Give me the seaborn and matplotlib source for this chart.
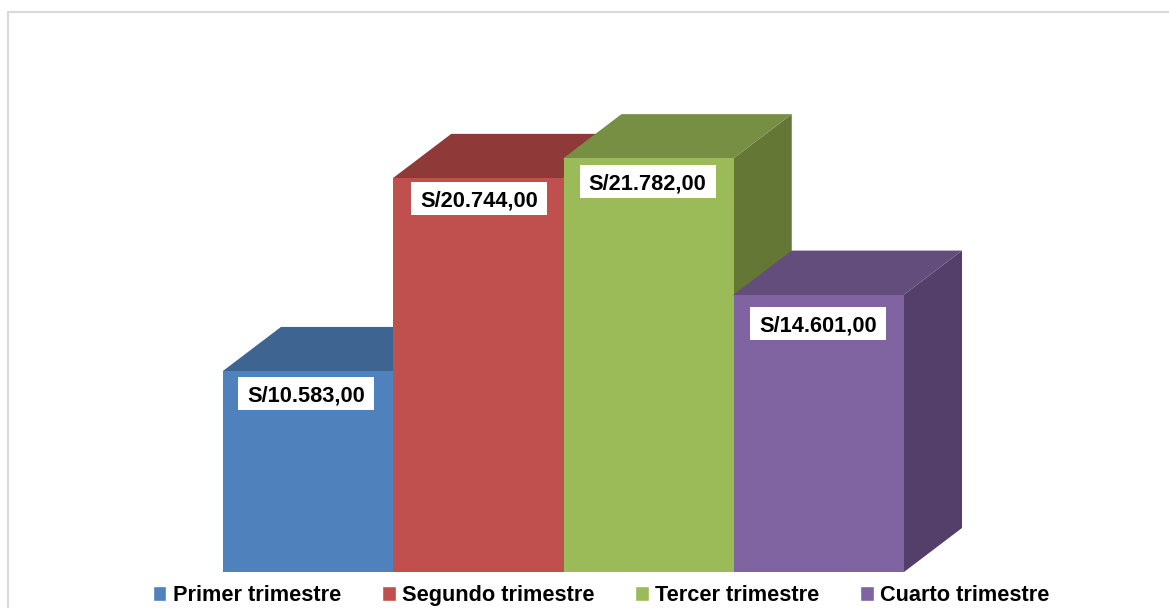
import matplotlib
matplotlib.use('Agg')
import matplotlib.pyplot as plt
from matplotlib.lines import Line2D
from matplotlib.patches import Rectangle
import pandas as pd
import seaborn as sns

trimestres = ['Primer trimestre', 'Segundo trimestre', 'Tercer trimestre', 'Cuarto trimestre']
valores = [10583, 20744, 21782, 14601]
etiquetas = ['S/10.583,00', 'S/20.744,00', 'S/21.782,00', 'S/14.601,00']

color_frente = ['#4F81BD', '#C0504D', '#9BBB59', '#8064A2']
color_arriba = ['#3E6492', '#8F3A38', '#778F43', '#634D7D']
color_lado = ['#345578', '#733130', '#657735', '#533F69']

# bajada y corrimiento de cada etiqueta respecto a su barra, en pixeles
bajada_px = [23, 20.5, 23.5, 28.5]
corrido_px = [-2, 0.5, -1, -1]

W, H = 1169, 608
sns.set_theme(style='white')
plt.rcParams['font.family'] = ['Liberation Sans', 'DejaVu Sans']

fig = plt.figure(figsize=(W / 100, H / 100), dpi=100)
ax = fig.add_axes([223 / W, (H - 572) / H, (904 - 223) / W, (572 - 12) / H])

df = pd.DataFrame({'trimestre': trimestres, 'valor': valores})
sns.barplot(data=df, x='trimestre', y='valor', hue='trimestre', order=trimestres,
            hue_order=trimestres, palette=color_frente, width=1, dodge=False,
            saturation=1, legend=True, ax=ax)

px_por_valor = 0.019
px_por_barra = (904 - 223) / 4
ax.set_xlim(-0.5, 3.5)
ax.set_ylim(0, (572 - 12) / px_por_valor)

# profundidad de las barras 3D
dx = 58 / px_por_barra
dy = 44 / px_por_valor
traslape = 1.5 / px_por_valor

for i, cont in enumerate(ax.containers):
    bar = cont[0]
    x0 = bar.get_x()
    x1 = x0 + bar.get_width()
    alto = bar.get_height()
    z = 3 + i
    bar.set_zorder(z + 0.2)
    bar.set_linewidth(0)
    # cara lateral y cara superior (la superior se mete un poco bajo el frente)
    ax.fill([x1 - 0.01, x1, x1 + dx, x1 + dx, x1, x1 - 0.01], [0, 0, dy, alto + dy, alto, alto],
            color=color_lado[i], lw=0, zorder=z, clip_on=False)
    ax.fill([x0, x1, x1, x1 + dx, x0 + dx, x0],
            [alto - traslape, alto - traslape, alto, alto + dy, alto + dy, alto],
            color=color_arriba[i], lw=0, zorder=z + 0.1, clip_on=False)

# las etiquetas van encima de todas las barras
for i, cont in enumerate(ax.containers):
    bar = cont[0]
    cx = bar.get_x() + bar.get_width() / 2 + corrido_px[i] / px_por_barra
    cy = bar.get_height() - bajada_px[i] / px_por_valor
    ancho = 136 / px_por_barra
    alto = 33 / px_por_valor
    ax.add_patch(Rectangle((cx - ancho / 2, cy - alto / 2), ancho, alto, fc='white', ec='none', zorder=20))
    ax.text(cx, cy, etiquetas[i], ha='center', va='center_baseline', fontsize=15.7,
            fontweight='bold', color='black', zorder=21)

sns.move_legend(ax, 'lower left', bbox_to_anchor=(152.5 / W, (H - 606) / H),
                bbox_transform=fig.transFigure, ncol=4, frameon=False, title=None,
                handlelength=0.64, handleheight=0.64, handletextpad=0.28,
                columnspacing=1.87, borderpad=0, borderaxespad=0,
                labelcolor='black', prop={'weight': 'bold', 'size': 15.7})

ax.axis('off')

# marco gris del grafico, abierto a la derecha y abajo
gris = '#D9D9D9'
fig.add_artist(Line2D([8 / W, 8 / W], [0, (H - 11.5) / H], color=gris, lw=1.5, transform=fig.transFigure))
fig.add_artist(Line2D([8 / W, 1], [(H - 11.5) / H, (H - 11.5) / H], color=gris, lw=1.5, transform=fig.transFigure))

fig.savefig('out.png', dpi=100, facecolor='white')
